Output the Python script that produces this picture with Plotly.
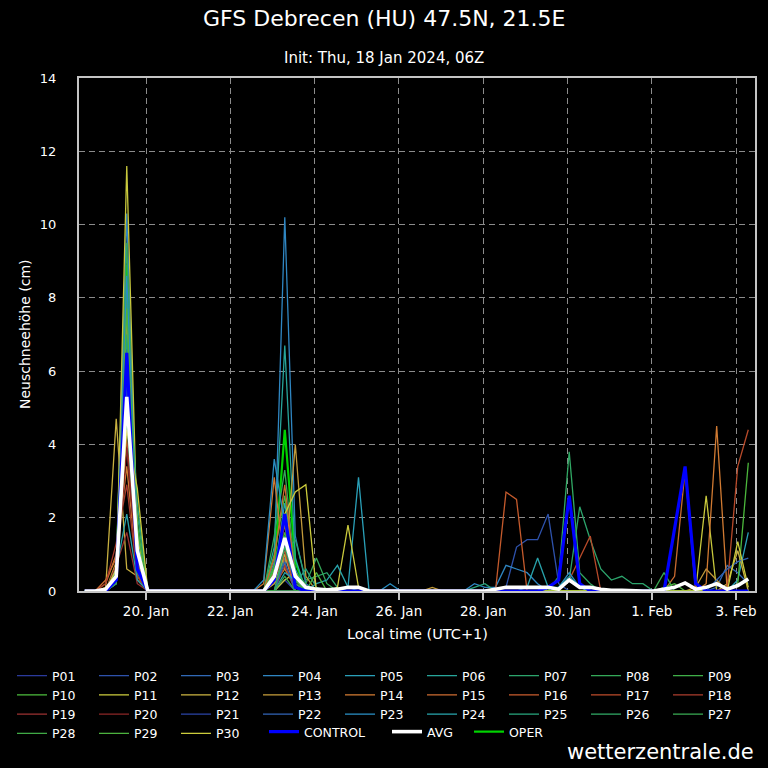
import plotly.graph_objects as go
import pandas as pd

# ---- time axis (6-hourly, local time UTC+1) ----
START = "2024-01-18 13:00"
N_STEPS = 64
TIMES = pd.date_range(START, periods=N_STEPS, freq="6h")

TICK_DATES = ["2024-01-20", "2024-01-22", "2024-01-24", "2024-01-26",
              "2024-01-28", "2024-01-30", "2024-02-01", "2024-02-03"]
TICK_TEXT = ["20. Jan", "22. Jan", "24. Jan", "26. Jan",
             "28. Jan", "30. Jan", "1. Feb", "3. Feb"]
Y_TICKS = [0, 2, 4, 6, 8, 10, 12, 14]

# ---- new snow (cm) per member ----
P01 = [0, 0, 0, 0.2, 5.8, 0.9, 0, 0, 0, 0, 0, 0, 0, 0, 0, 0,
       0, 0, 0, 0.3, 0, 0, 0, 0, 0, 0, 0, 0, 0, 0, 0, 0,
       0, 0, 0, 0, 0, 0, 0, 0, 0, 0, 0, 0, 0, 0, 0, 0,
       0, 0, 0, 0, 0, 0, 0, 0, 0, 0, 0, 0, 0, 0, 0, 0]
P02 = [0, 0, 0, 0.4, 7.2, 0.5, 0, 0, 0, 0, 0, 0, 0, 0, 0, 0,
       0, 0, 0.3, 1.3, 0, 0, 0, 0, 0, 0, 0, 0, 0, 0, 0, 0,
       0, 0, 0, 0, 0, 0, 0, 0, 0.1, 1.2, 1.4, 1.4, 2.1, 0.2, 0, 0,
       0, 0, 0, 0, 0, 0, 0, 0, 0, 0, 0, 0, 0, 0, 0, 0]
P03 = [0, 0, 0, 0.3, 4.9, 1.4, 0, 0, 0, 0, 0, 0, 0, 0, 0, 0,
       0, 0, 0, 0.9, 0.2, 0, 0, 0, 0, 0, 0, 0, 0, 0, 0, 0,
       0, 0, 0, 0, 0, 0, 0, 0, 0, 0, 0, 0, 0, 0, 0, 0,
       0, 0, 0, 0, 0, 0, 0, 0, 0, 0, 0, 0, 0.1, 0.7, 0.5, 0.2]
P04 = [0, 0, 0, 0.5, 10.3, 1.0, 0, 0, 0, 0, 0, 0, 0, 0, 0, 0,
       0, 0, 0.8, 10.2, 1.5, 0.2, 0, 0, 0, 0, 0, 0, 0, 0, 0, 0,
       0, 0, 0, 0, 0, 0.2, 0.1, 0.1, 0.7, 0.6, 0.5, 0.2, 0, 0, 0, 0,
       0, 0, 0, 0, 0, 0, 0, 0, 0, 0, 0, 0, 0, 0, 0, 0]
P05 = [0, 0, 0, 0.2, 7.8, 1.6, 0, 0, 0, 0, 0, 0, 0, 0, 0, 0,
       0, 0, 0.5, 2.4, 0.6, 0, 0, 0, 0, 0.1, 3.1, 0, 0, 0, 0, 0,
       0, 0, 0, 0, 0, 0, 0, 0, 0, 0, 0, 0, 0, 0, 0, 0,
       0, 0, 0, 0, 0, 0, 0, 0, 0, 0, 0, 0, 0, 0, 0.3, 1.6]
P06 = [0, 0, 0, 0.6, 6.9, 0.7, 0, 0, 0, 0, 0, 0, 0, 0, 0, 0,
       0, 0, 1.2, 6.7, 0.9, 0, 0, 0, 0, 0, 0, 0, 0, 0, 0, 0,
       0, 0, 0, 0, 0, 0, 0, 0, 0, 0, 0, 0, 0, 0, 0, 0,
       0, 0, 0, 0, 0, 0, 0, 0, 0, 0, 0, 0, 0, 0, 0, 0]
P07 = [0, 0, 0, 0.3, 5.4, 2.1, 0, 0, 0, 0, 0, 0, 0, 0, 0, 0,
       0, 0, 0, 1.0, 1.4, 0.3, 0.4, 0.5, 0.1, 0, 0, 0, 0, 0, 0, 0,
       0, 0, 0, 0, 0, 0, 0, 0, 0, 0, 0, 0, 0, 0, 0.3, 2.3,
       1.4, 0.6, 0.3, 0.4, 0.2, 0.2, 0, 0, 0, 0, 0, 0, 0, 0, 0, 0]
P08 = [0, 0, 0, 0.4, 9.5, 1.2, 0, 0, 0, 0, 0, 0, 0, 0, 0, 0,
       0, 0, 1.5, 3.3, 0.5, 0.2, 0.9, 0.2, 0, 0, 0, 0, 0, 0, 0, 0,
       0, 0, 0, 0, 0, 0, 0, 0, 0, 0, 0, 0, 0, 0, 0, 0,
       0, 0, 0, 0, 0, 0, 0, 0, 0, 0, 0, 0, 0, 0, 0, 0]
P09 = [0, 0, 0, 0.2, 8.1, 0.6, 0, 0, 0, 0, 0, 0, 0, 0, 0, 0,
       0, 0, 0.7, 2.0, 0.3, 0, 0, 0, 0, 0, 0, 0, 0, 0, 0, 0,
       0, 0, 0, 0, 0, 0, 0, 0, 0, 0, 0, 0, 0, 0, 0, 0,
       0, 0, 0, 0, 0, 0, 0, 0, 0, 0, 0, 0, 0, 0, 0, 0]
P10 = [0, 0, 0, 0.5, 6.2, 1.8, 0, 0, 0, 0, 0, 0, 0, 0, 0, 0,
       0, 0, 1.0, 2.6, 0.4, 0, 0, 0, 0, 0, 0, 0, 0, 0, 0, 0,
       0, 0, 0, 0, 0, 0, 0, 0, 0, 0, 0, 0, 0, 0, 0, 0,
       0, 0, 0, 0, 0, 0, 0, 0, 0, 0, 0, 0, 0, 0, 0.2, 3.5]
P11 = [0, 0, 0, 0.3, 11.6, 1.5, 0, 0, 0, 0, 0, 0, 0, 0, 0, 0,
       0, 0, 0, 0.3, 0.5, 0, 0, 0, 0.1, 1.8, 0.1, 0, 0, 0, 0, 0,
       0, 0, 0, 0, 0, 0, 0, 0, 0, 0, 0, 0, 0, 0, 0, 0,
       0, 0, 0, 0, 0, 0, 0, 0, 0, 0, 0, 2.6, 0, 0, 0, 0]
P12 = [0, 0, 0.1, 4.7, 0.6, 0.4, 0, 0, 0, 0, 0, 0, 0, 0, 0, 0,
       0, 0, 0.2, 1.0, 0, 0, 0, 0, 0, 0, 0, 0, 0, 0, 0, 0,
       0, 0, 0, 0, 0, 0, 0, 0, 0, 0, 0, 0, 0, 0, 0, 0,
       0, 0, 0, 0, 0, 0, 0, 0, 0, 0, 0, 0, 0, 0.2, 1.1, 0]
P13 = [0, 0, 0, 0.8, 7.5, 0.9, 0, 0, 0, 0, 0, 0, 0, 0, 0, 0,
       0, 0, 0.2, 0.6, 4.0, 0.4, 0, 0, 0, 0, 0, 0, 0, 0, 0, 0,
       0, 0.1, 0, 0, 0, 0, 0, 0, 0, 0, 0, 0, 0, 0, 0, 0,
       0, 0, 0, 0, 0, 0, 0, 0, 0, 0, 0.1, 0.6, 0.3, 0, 0, 0]
P14 = [0, 0, 0.2, 1.0, 3.4, 0.5, 0, 0, 0, 0, 0, 0, 0, 0, 0, 0,
       0, 0.2, 3.1, 0.6, 0.1, 0, 0, 0, 0, 0, 0, 0, 0, 0, 0, 0,
       0, 0, 0, 0, 0, 0, 0, 0, 0, 0, 0, 0, 0, 0, 0, 0,
       0, 0, 0, 0, 0, 0, 0, 0, 0, 0, 0, 0.2, 4.5, 0, 0, 0]
P15 = [0, 0, 0.3, 0.9, 6.0, 0.8, 0, 0, 0, 0, 0, 0, 0, 0, 0, 0,
       0, 0, 0.9, 2.9, 0.3, 0, 0, 0, 0, 0, 0, 0, 0, 0, 0, 0,
       0, 0, 0, 0, 0, 0, 0, 0, 0, 0, 0, 0, 0, 0, 0, 0,
       0, 0, 0, 0, 0, 0, 0, 0, 0.4, 3.3, 0, 0, 0, 0, 0, 0]
P16 = [0, 0, 0, 0.6, 5.0, 1.1, 0, 0, 0, 0, 0, 0, 0, 0, 0, 0,
       0, 0, 0.5, 1.8, 0.2, 0, 0, 0, 0, 0, 0, 0, 0, 0, 0, 0,
       0, 0, 0, 0, 0, 0, 0, 0, 2.7, 2.5, 0, 0, 0, 0, 0, 0,
       0, 0, 0, 0, 0, 0, 0, 0, 0, 0, 0, 0, 0, 0, 0, 0]
P17 = [0, 0, 0, 0.5, 4.2, 0.3, 0, 0, 0, 0, 0, 0, 0, 0, 0, 0,
       0, 0, 0.3, 1.1, 0, 0, 0, 0, 0, 0, 0, 0, 0, 0, 0, 0,
       0, 0, 0, 0, 0, 0, 0, 0, 0, 0, 0, 0, 0, 0, 0.3, 0.9,
       1.5, 0, 0, 0, 0, 0, 0, 0, 0, 0, 0, 0, 0, 0.1, 3.4, 4.4]
P18 = [0, 0, 0.2, 1.3, 2.9, 0.4, 0, 0, 0, 0, 0, 0, 0, 0, 0, 0,
       0, 0, 0, 0.7, 0, 0, 0, 0, 0, 0, 0, 0, 0, 0, 0, 0,
       0, 0, 0, 0, 0, 0, 0, 0, 0, 0, 0, 0, 0, 0, 0, 0,
       0, 0, 0, 0, 0, 0, 0, 0, 0, 0, 0, 0, 0, 0, 0, 0]
P19 = [0, 0, 0, 0.7, 1.6, 0.2, 0, 0, 0, 0, 0, 0, 0, 0, 0, 0,
       0, 0, 0, 0, 0, 0, 0, 0, 0, 0, 0, 0, 0, 0, 0, 0,
       0, 0, 0, 0, 0, 0, 0, 0, 0, 0, 0, 0, 0, 0, 0, 0,
       0, 0, 0, 0, 0, 0, 0, 0, 0, 0, 0, 0, 0, 0, 0, 0]
P20 = [0, 0, 0, 0.4, 3.9, 0.6, 0, 0, 0, 0, 0, 0, 0, 0, 0, 0,
       0, 0, 0, 0, 0, 0, 0, 0, 0, 0, 0, 0, 0, 0, 0, 0,
       0, 0, 0, 0, 0, 0, 0, 0, 0, 0, 0, 0, 0, 0, 0, 0,
       0, 0, 0, 0, 0, 0, 0, 0, 0, 0, 0, 0, 0, 0, 0, 0]
P21 = [0, 0, 0, 0.3, 6.6, 0.9, 0, 0, 0, 0, 0, 0, 0, 0, 0, 0,
       0, 0, 0, 0, 0, 0, 0, 0, 0, 0, 0, 0, 0, 0, 0, 0,
       0, 0, 0, 0, 0, 0, 0, 0, 0, 0, 0, 0, 0, 0, 0, 0,
       0, 0, 0, 0, 0, 0, 0, 0, 0, 0, 0, 0, 0, 0, 0, 0]
P22 = [0, 0, 0, 0.2, 5.6, 0.7, 0, 0, 0, 0, 0, 0, 0, 0, 0, 0,
       0, 0, 0, 0.8, 0, 0, 0, 0, 0, 0, 0, 0, 0, 0, 0, 0,
       0, 0, 0, 0, 0, 0, 0, 0, 0, 0, 0, 0, 0, 0, 0, 0,
       0, 0, 0, 0, 0, 0, 0, 0, 0, 0, 0, 0, 0.3, 0.6, 0.8, 0.9]
P23 = [0, 0, 0, 0.4, 8.6, 1.3, 0, 0, 0, 0, 0, 0, 0, 0, 0, 0,
       0, 0.3, 3.6, 1.8, 0.4, 0, 0, 0, 0, 0, 0, 0, 0, 0.2, 0, 0,
       0, 0, 0, 0, 0, 0, 0, 0, 0, 0, 0, 0, 0, 0.1, 0.5, 0.1,
       0, 0, 0, 0, 0, 0, 0, 0, 0, 0, 0, 0, 0, 0, 0, 0]
P24 = [0, 0, 0, 0.6, 2.1, 0.3, 0, 0, 0, 0, 0, 0, 0, 0, 0, 0,
       0, 0, 0, 0.5, 0.3, 0, 0.2, 0.3, 0.7, 0.1, 0, 0, 0, 0, 0, 0,
       0, 0, 0, 0, 0, 0, 0, 0, 0, 0, 0.1, 0.9, 0.1, 0.1, 0.4, 0.1,
       0, 0, 0, 0, 0, 0, 0, 0, 0, 0, 0, 0, 0, 0, 0, 0]
P25 = [0, 0, 0, 0.3, 7.0, 2.4, 0, 0, 0, 0, 0, 0, 0, 0, 0, 0,
       0, 0, 0.4, 1.5, 0.2, 0.6, 0.1, 0, 0, 0, 0, 0, 0, 0, 0, 0,
       0, 0, 0, 0, 0, 0.1, 0.2, 0, 0, 0, 0, 0, 0, 0, 0, 0,
       0, 0, 0, 0, 0, 0, 0, 0, 0, 0, 0, 0, 0, 0, 0, 0]
P26 = [0, 0, 0, 0.5, 4.6, 1.0, 0, 0, 0, 0, 0, 0, 0, 0, 0, 0,
       0, 0, 0, 1.2, 0.2, 0, 0, 0, 0, 0, 0, 0, 0, 0, 0, 0,
       0, 0, 0, 0, 0, 0, 0, 0, 0, 0, 0, 0, 0, 0.4, 3.8, 0.5,
       0.2, 0, 0, 0, 0, 0, 0, 0, 0, 0, 0, 0, 0, 0, 0, 0]
P27 = [0, 0, 0, 0.4, 6.4, 0.5, 0, 0, 0, 0, 0, 0, 0, 0, 0, 0,
       0, 0, 0, 0.4, 0, 0, 0, 0, 0, 0, 0, 0, 0, 0, 0, 0,
       0, 0, 0, 0, 0, 0, 0, 0, 0, 0, 0, 0, 0, 0, 0, 0,
       0, 0, 0, 0, 0, 0, 0, 0.5, 0, 0, 0, 0, 0, 0, 0, 0]
P28 = [0, 0, 0, 0.2, 5.2, 1.7, 0, 0, 0, 0, 0, 0, 0, 0, 0, 0,
       0, 0, 0, 0, 0, 0, 0, 0, 0, 0, 0, 0, 0, 0, 0, 0,
       0, 0, 0, 0, 0, 0, 0, 0, 0, 0, 0, 0, 0, 0, 0, 0,
       0, 0, 0, 0, 0, 0, 0, 0, 0, 0, 0, 0, 0, 0, 0, 0]
P29 = [0, 0, 0, 0.3, 7.7, 1.1, 0, 0, 0, 0, 0, 0, 0, 0, 0, 0,
       0, 0, 0.6, 1.6, 0.3, 0, 0.5, 0, 0, 0, 0, 0, 0, 0, 0, 0,
       0, 0, 0, 0, 0, 0, 0, 0, 0, 0, 0, 0, 0, 0, 0, 0,
       0, 0, 0, 0, 0, 0, 0, 0.1, 0.2, 0, 0, 0, 0, 0, 0, 0]
P30 = [0, 0, 0, 0.6, 4.4, 2.8, 0, 0, 0, 0, 0, 0, 0, 0, 0, 0,
       0, 0, 0.3, 2.1, 2.7, 2.9, 0, 0, 0, 0, 0, 0, 0, 0, 0, 0,
       0, 0, 0, 0, 0, 0, 0, 0, 0, 0, 0, 0, 0, 0, 0, 0,
       0, 0, 0, 0, 0, 0, 0, 0, 0, 0, 0, 0, 0, 0, 1.35, 0.1]
CONTROL = [0, 0, 0, 0.3, 6.5, 0.6, 0, 0, 0, 0, 0, 0, 0, 0, 0, 0,
           0, 0, 0.3, 2.1, 0.1, 0, 0, 0, 0, 0, 0, 0, 0, 0, 0, 0,
           0, 0, 0, 0, 0, 0, 0, 0, 0, 0, 0, 0, 0.1, 0.3, 2.6, 0.2,
           0, 0, 0, 0, 0, 0, 0, 0, 1.7, 3.4, 0.2, 0, 0, 0, 0, 0]
AVG = [0, 0, 0.05, 0.4, 5.3, 1.1, 0, 0, 0, 0, 0, 0, 0, 0, 0, 0,
       0, 0, 0.4, 1.45, 0.4, 0.1, 0.05, 0.03, 0.05, 0.1, 0.1, 0, 0, 0, 0, 0,
       0, 0, 0, 0, 0, 0, 0, 0.05, 0.1, 0.1, 0.1, 0.1, 0.1, 0.05, 0.3, 0.1,
       0.1, 0.05, 0.02, 0.02, 0, 0, 0, 0.05, 0.1, 0.22, 0.05, 0.1, 0.2, 0.05, 0.15, 0.33]
OPER = [0, 0, 0, 0.4, 8.9, 1.3, 0, 0, 0, 0, 0, 0, 0, 0, 0, 0,
        0, 0, 0.6, 4.4, 0.8, 0, 0, 0, 0, 0, 0, 0, 0, 0, 0, 0,
        0, 0, 0, 0, 0, 0, 0, 0, 0, 0, 0, 0, 0, 0, 0, 0,
        0, 0, 0, 0, 0, 0, 0, 0, 0, 0, 0, 0, 0, 0, 0, 0]

MEMBERS = [P01, P02, P03, P04, P05, P06, P07, P08, P09, P10,
           P11, P12, P13, P14, P15, P16, P17, P18, P19, P20,
           P21, P22, P23, P24, P25, P26, P27, P28, P29, P30]
MEMBER_NAMES = ["P%02d" % (k + 1) for k in range(30)]
MEMBER_COLORS = [
    "#2b3a9c", "#2e52ac", "#3169b6", "#2f86c2", "#2aa0b8",
    "#27a59a", "#2ca46c", "#34a858", "#3fae48", "#4cb83c",
    "#c8c83c", "#c8b040", "#c29a3a", "#d07a32", "#c86a30",
    "#c45a2c", "#b84a2a", "#a83c2c", "#983030", "#882626",
    "#2a42a2", "#3062b2", "#2a8ec2", "#28a2aa", "#28a47c",
    "#30a864", "#38a852", "#40aa46", "#4cb23e", "#cccc3c",
]

BG = "#000000"
FG = "#ffffff"
FONT = "DejaVu Sans"

fig = go.Figure()

# operational run (drawn beneath the ensemble)
fig.add_trace(go.Scatter(x=TIMES, y=OPER, mode="lines", name="OPER",
                         line=dict(color="#00d400", width=2.2),
                         legend="legend3", legendrank=2))

for name, vals, col in zip(MEMBER_NAMES, MEMBERS, MEMBER_COLORS):
    fig.add_trace(go.Scatter(x=TIMES, y=vals, mode="lines", name=name,
                             line=dict(color=col, width=1.3),
                             legend="legend"))

fig.add_trace(go.Scatter(x=TIMES, y=CONTROL, mode="lines", name="CONTROL",
                         line=dict(color="#0000ff", width=3.2),
                         legend="legend2"))
fig.add_trace(go.Scatter(x=TIMES, y=AVG, mode="lines", name="AVG",
                         line=dict(color="#ffffff", width=3.6),
                         legend="legend3", legendrank=1))

W, H = 768, 768
L, R, T, B = 79, 13, 78, 177
PW, PH = W - L - R, H - T - B


def px_x(px):
    return (px - L) / PW


def px_y(py):
    return (H - B - py) / PH


legend_common = dict(orientation="h", xanchor="left", yanchor="top",
                     bgcolor="rgba(0,0,0,0)", borderwidth=0,
                     font=dict(family=FONT, size=12.5, color=FG),
                     traceorder="normal", entrywidthmode="pixels")

fig.update_layout(
    width=W, height=H,
    margin=dict(l=L, r=R, t=T, b=B, autoexpand=False),
    paper_bgcolor=BG, plot_bgcolor=BG,
    font=dict(family=FONT, color=FG, size=13),
    showlegend=True,
    legend=dict(legend_common, x=px_x(12), y=px_y(661), entrywidth=37),
    legend2=dict(legend_common, x=px_x(264), y=px_y(717)),
    legend3=dict(legend_common, x=px_x(387), y=px_y(717), entrywidth=37),
    xaxis=dict(
        type="date",
        range=["2024-01-18 09:48", "2024-02-03 10:49"],
        tickvals=TICK_DATES, ticktext=TICK_TEXT,
        showgrid=True, gridcolor="#8c8c8c", griddash="6px,4px", gridwidth=1,
        showline=True, mirror=True, linecolor="#c4c4c4", linewidth=2,
        ticks="outside", ticklen=7, tickwidth=1.5, tickcolor="#c4c4c4",
        tickfont=dict(family=FONT, size=13.5, color=FG),
        zeroline=False,
    ),
    yaxis=dict(
        range=[0, 14], tickvals=Y_TICKS,
        showgrid=True, gridcolor="#8c8c8c", griddash="6px,4px", gridwidth=1,
        showline=True, mirror=True, linecolor="#c4c4c4", linewidth=2,
        ticks="outside", ticklen=18, tickcolor="rgba(0,0,0,0)",
        tickfont=dict(family=FONT, size=13, color=FG),
        zeroline=False,
    ),
    annotations=[
        dict(text="GFS Debrecen (HU) 47.5N, 21.5E", xref="paper", yref="paper",
             x=px_x(384), y=px_y(18), xanchor="center", yanchor="middle",
             showarrow=False, font=dict(family=FONT, size=22, color=FG)),
        dict(text="Init: Thu, 18 Jan 2024, 06Z", xref="paper", yref="paper",
             x=px_x(384), y=px_y(58), xanchor="center", yanchor="middle",
             showarrow=False, font=dict(family=FONT, size=15, color=FG)),
        dict(text="Neuschneehöhe (cm)", xref="paper", yref="paper",
             x=px_x(25), y=px_y(334), xanchor="center", yanchor="middle",
             textangle=-90, showarrow=False,
             font=dict(family=FONT, size=14, color=FG)),
        dict(text="Local time (UTC+1)", xref="paper", yref="paper",
             x=px_x(417), y=px_y(634), xanchor="center", yanchor="middle",
             showarrow=False, font=dict(family=FONT, size=14.5, color=FG)),
        dict(text="wetterzentrale.de", xref="paper", yref="paper",
             x=px_x(756), y=px_y(752), xanchor="right", yanchor="middle",
             showarrow=False, font=dict(family=FONT, size=21, color=FG)),
    ],
)

fig.write_html("out.html",
               config={"displayModeBar": False},
               post_script="document.body.style.margin='0px';"
                           "document.body.style.overflow='hidden';")
